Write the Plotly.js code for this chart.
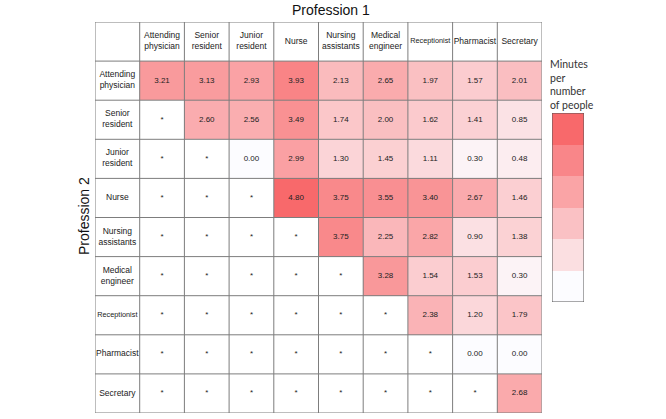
<!DOCTYPE html>
<html><head><meta charset="utf-8">
<script src="https://cdn.plot.ly/plotly-3.0.1.min.js"></script>
<style>html,body{margin:0;padding:0;background:#fff}#chart{width:666px;height:419px}</style>
</head><body><div id="chart"></div>
<script>
const colLabels = ["Attending<br>physician","Senior<br>resident","Junior<br>resident","Nurse","Nursing<br>assistants","Medical<br>engineer","Receptionist","Pharmacist","Secretary"];
const rowLabels = ["Attending<br>physician","Senior<br>resident","Junior<br>resident","Nurse","Nursing<br>assistants","Medical<br>engineer","Receptionist","Pharmacist","Secretary"];
const minutes = [
 [3.21,3.13,2.93,3.93,2.13,2.65,1.97,1.57,2.01],
 [null,2.60,2.56,3.49,1.74,2.00,1.62,1.41,0.85],
 [null,null,0.00,2.99,1.30,1.45,1.11,0.30,0.48],
 [null,null,null,4.80,3.75,3.55,3.40,2.67,1.46],
 [null,null,null,null,3.75,2.25,2.82,0.90,1.38],
 [null,null,null,null,null,3.28,1.54,1.53,0.30],
 [null,null,null,null,null,null,2.38,1.20,1.79],
 [null,null,null,null,null,null,null,0.00,0.00],
 [null,null,null,null,null,null,null,null,2.68]
];
const legendLevels = [[0],[1],[2],[3],[4],[5]];
const legendTitle = "Minutes<br>per<br>number<br>of people";
const xTitle = "Profession 1";
const yTitle = "Profession 2";

const W = 666, H = 419;
const idx = colLabels.map((_, i) => i);
const scale = [[0, '#FCFCFF'], [1, '#F8696B']];
const FONT = 'Arial, "Liberation Sans", sans-serif';

// value text
const tx = [], ty = [], tt = [];
minutes.forEach((row, r) => row.forEach((v, c) => {
  tx.push(c); ty.push(r); tt.push(v === null ? '*' : v.toFixed(2));
}));
// header labels
const lx = [], ly = [], lt = [], ls = [];
colLabels.forEach((t, i) => { lx.push(i); ly.push(-1); lt.push(t); ls.push(t === 'Receptionist' ? 7.3 : 8.5); });
rowLabels.forEach((t, i) => { lx.push(-1); ly.push(i); lt.push(t); ls.push(t === 'Receptionist' ? 7.3 : 8.5); });

const traces = [
  { type: 'heatmap', x: idx, y: idx, z: minutes, colorscale: scale, zmin: 0, zmax: 4.8,
    showscale: false, hoverinfo: 'skip', xaxis: 'x', yaxis: 'y' },
  { type: 'scatter', mode: 'text', x: tx, y: ty, text: tt, hoverinfo: 'skip', showlegend: false,
    textfont: { family: FONT, size: 8, color: '#222' }, xaxis: 'x', yaxis: 'y', cliponaxis: false },
  { type: 'scatter', mode: 'text', x: lx, y: ly, text: lt, hoverinfo: 'skip', showlegend: false,
    textfont: { family: FONT, size: ls, color: '#222' }, xaxis: 'x', yaxis: 'y', cliponaxis: false },
  { type: 'heatmap', x: [0], y: [0,1,2,3,4,5], z: legendLevels, colorscale: scale, zmin: 0, zmax: 5,
    showscale: false, hoverinfo: 'skip', xaxis: 'x2', yaxis: 'y2' }
];

const shapes = [];
for (let k = -1.5; k <= 8.5; k += 1) {
  shapes.push({ type: 'line', xref: 'x', yref: 'y', x0: k, x1: k, y0: -1.5, y1: 8.5, line: { color: '#7d7d7d', width: 1 }, layer: 'above' });
  shapes.push({ type: 'line', xref: 'x', yref: 'y', x0: -1.5, x1: 8.5, y0: k, y1: k, line: { color: '#7d7d7d', width: 1 }, layer: 'above' });
}
shapes.push({ type: 'rect', xref: 'x2', yref: 'y2', x0: -0.5, x1: 0.5, y0: -0.5, y1: 5.5, line: { color: '#555', width: 1 }, layer: 'above' });

const hidden = { showgrid: false, zeroline: false, showticklabels: false, ticks: '', showline: false, fixedrange: true };
const layout = {
  width: W, height: H, margin: { l: 0, r: 0, t: 0, b: 0 },
  paper_bgcolor: '#fff', plot_bgcolor: '#fff', showlegend: false,
  font: { family: FONT, color: '#222' },
  xaxis: Object.assign({}, hidden, { domain: [95 / W, 542 / W], range: [-1.5, 8.5] }),
  yaxis: Object.assign({}, hidden, { domain: [1 - 413 / H, 1 - 22 / H], range: [8.5, -1.5] }),
  xaxis2: Object.assign({}, hidden, { domain: [552 / W, 584 / W], range: [-0.5, 0.5], anchor: 'y2' }),
  yaxis2: Object.assign({}, hidden, { domain: [1 - 302 / H, 1 - 113 / H], range: [-0.5, 5.5], anchor: 'x2' }),
  shapes: shapes,
  annotations: [
    { xref: 'paper', yref: 'paper', x: 331 / W, y: 1 - 10 / H, text: xTitle, showarrow: false,
      font: { family: FONT, size: 14, color: '#111' }, xanchor: 'center', yanchor: 'middle' },
    { xref: 'paper', yref: 'paper', x: 84 / W, y: 1 - 216 / H, text: yTitle, showarrow: false, textangle: -90,
      font: { family: FONT, size: 14, color: '#111' }, xanchor: 'center', yanchor: 'middle' },
    { xref: 'paper', yref: 'paper', x: 548 / W, y: 1 - 56 / H, text: legendTitle, showarrow: false, align: 'left',
      font: { family: 'Lato, "Open Sans", sans-serif', size: 10.5, color: '#333' }, xanchor: 'left', yanchor: 'top' }
  ]
};
Plotly.newPlot('chart', traces, layout, { staticPlot: true, displayModeBar: false });
</script></body></html>
